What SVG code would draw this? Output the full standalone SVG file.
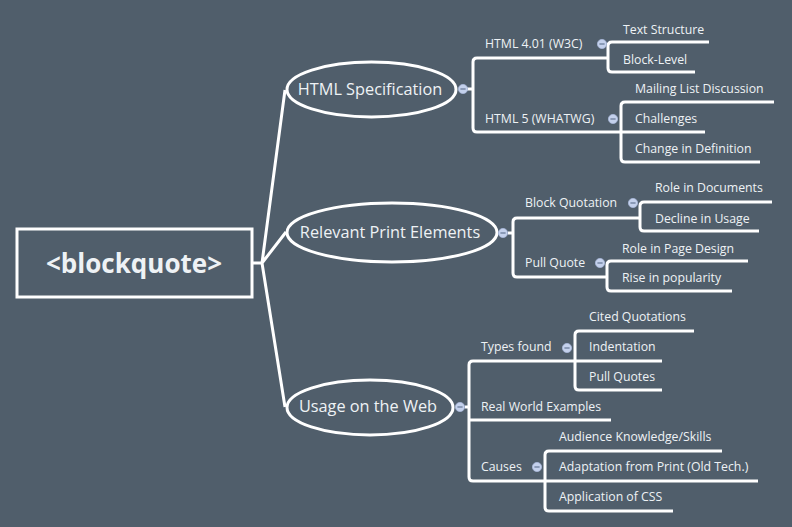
<svg xmlns="http://www.w3.org/2000/svg" width="792" height="527" viewBox="0 0 792 527">
<defs>
<style>
.bg{fill:#505E6B}
.ln{fill:none;stroke:#FFFFFF;stroke-width:3;stroke-linecap:butt;stroke-linejoin:round}
.ell{fill:#505E6B;stroke:#FFFFFF;stroke-width:3}
.root{fill:#505E6B;stroke:#FFFFFF;stroke-width:3}
.t{font-family:"Open Sans","Noto Sans","DejaVu Sans",sans-serif;fill:#EEF2F5}
.s{font-size:12.3px}
.m{font-size:16.3px}
.r{font-size:26px;font-weight:bold}
.btn{fill:#C4D1EC;stroke:#A9B9DA;stroke-width:0.8}
.mn{stroke:#7C8DAA;stroke-width:1.6}
</style>
<g id="btn"><circle class="btn" cx="0" cy="0" r="4.6"/><line class="mn" x1="-2.6" y1="0" x2="2.6" y2="0"/></g>
</defs>
<rect class="bg" x="0" y="0" width="792" height="527"/>
<g id="connectors">
<path class="ln" d="M252,263 H262 M262,263 L285,90 M262,263 L286,232 M262,263 L285,407"/>
<path class="ln" d="M467,89 H473 M608,58 H477 Q473,58 473,62 V128 Q473,132 477,132 H621"/>
<path class="ln" d="M709,42 H612 Q608,42 608,46 V68 Q608,72 612,72 H695"/>
<path class="ln" d="M774,102 H625 Q621,102 621,106 V158 Q621,162 625,162 H760 M621,132 H705"/>
<path class="ln" d="M508,233 H513 M640,218 H517 Q513,218 513,222 V273 Q513,277 517,277 H607"/>
<path class="ln" d="M772,202 H644 Q640,202 640,206 V227 Q640,231 644,231 H759"/>
<path class="ln" d="M748,261 H611 Q607,261 607,265 V287 Q607,291 611,291 H732"/>
<path class="ln" d="M465,407 H469 M575,361 H473 Q469,361 469,365 V477 Q469,481 473,481 H545 M469,420 H611"/>
<path class="ln" d="M694,331 H579 Q575,331 575,335 V386 Q575,390 579,390 H662 M575,361 H662"/>
<path class="ln" d="M722,451 H549 Q545,451 545,455 V507 Q545,511 549,511 H673 M545,481 H758"/>
</g>
<g id="root"><rect class="root" x="17" y="229" width="235" height="68"/><text class="t r" x="134" y="273" text-anchor="middle">&lt;blockquote&gt;</text></g>
<g id="html-spec"><ellipse class="ell" cx="371.5" cy="89.5" rx="84.5" ry="27.5"/><text class="t m" x="370" y="95" text-anchor="middle">HTML Specification</text><use href="#btn" x="463" y="89"/></g>
<g id="html401"><text class="t s" x="485" y="48">HTML 4.01 (W3C)</text><use href="#btn" x="602" y="44"/></g>
<g id="text-structure"><text class="t s" x="623" y="34">Text Structure</text></g>
<g id="block-level"><text class="t s" x="623" y="64">Block-Level</text></g>
<g id="html5"><text class="t s" x="485" y="123">HTML 5 (WHATWG)</text><use href="#btn" x="613" y="119"/></g>
<g id="mailing"><text class="t s" x="635" y="93">Mailing List Discussion</text></g>
<g id="challenges"><text class="t s" x="635" y="123">Challenges</text></g>
<g id="change"><text class="t s" x="635" y="153">Change in Definition</text></g>
<g id="print"><ellipse class="ell" cx="392" cy="232.5" rx="105" ry="29.5"/><text class="t m" x="390" y="238" text-anchor="middle">Relevant Print Elements</text><use href="#btn" x="503" y="233"/></g>
<g id="block-quotation"><text class="t s" x="525" y="207">Block Quotation</text><use href="#btn" x="633" y="203"/></g>
<g id="role-docs"><text class="t s" x="655" y="192">Role in Documents</text></g>
<g id="decline"><text class="t s" x="655" y="223">Decline in Usage</text></g>
<g id="pull-quote"><text class="t s" x="525" y="267">Pull Quote</text><use href="#btn" x="600" y="263"/></g>
<g id="role-page"><text class="t s" x="622" y="253">Role in Page Design</text></g>
<g id="rise"><text class="t s" x="622" y="282">Rise in popularity</text></g>
<g id="usage"><ellipse class="ell" cx="370" cy="407.5" rx="83" ry="27.5"/><text class="t m" x="368" y="412" text-anchor="middle">Usage on the Web</text><use href="#btn" x="460" y="407"/></g>
<g id="types"><text class="t s" x="481" y="351">Types found</text><use href="#btn" x="567" y="348"/></g>
<g id="cited"><text class="t s" x="589" y="321">Cited Quotations</text></g>
<g id="indentation"><text class="t s" x="589" y="351">Indentation</text></g>
<g id="pull-quotes"><text class="t s" x="589" y="381">Pull Quotes</text></g>
<g id="real-world"><text class="t s" x="481" y="411">Real World Examples</text></g>
<g id="causes"><text class="t s" x="481" y="471">Causes</text><use href="#btn" x="537" y="467"/></g>
<g id="audience"><text class="t s" x="559" y="441">Audience Knowledge/Skills</text></g>
<g id="adaptation"><text class="t s" x="559" y="471">Adaptation from Print (Old Tech.)</text></g>
<g id="css"><text class="t s" x="559" y="501">Application of CSS</text></g>
</svg>
